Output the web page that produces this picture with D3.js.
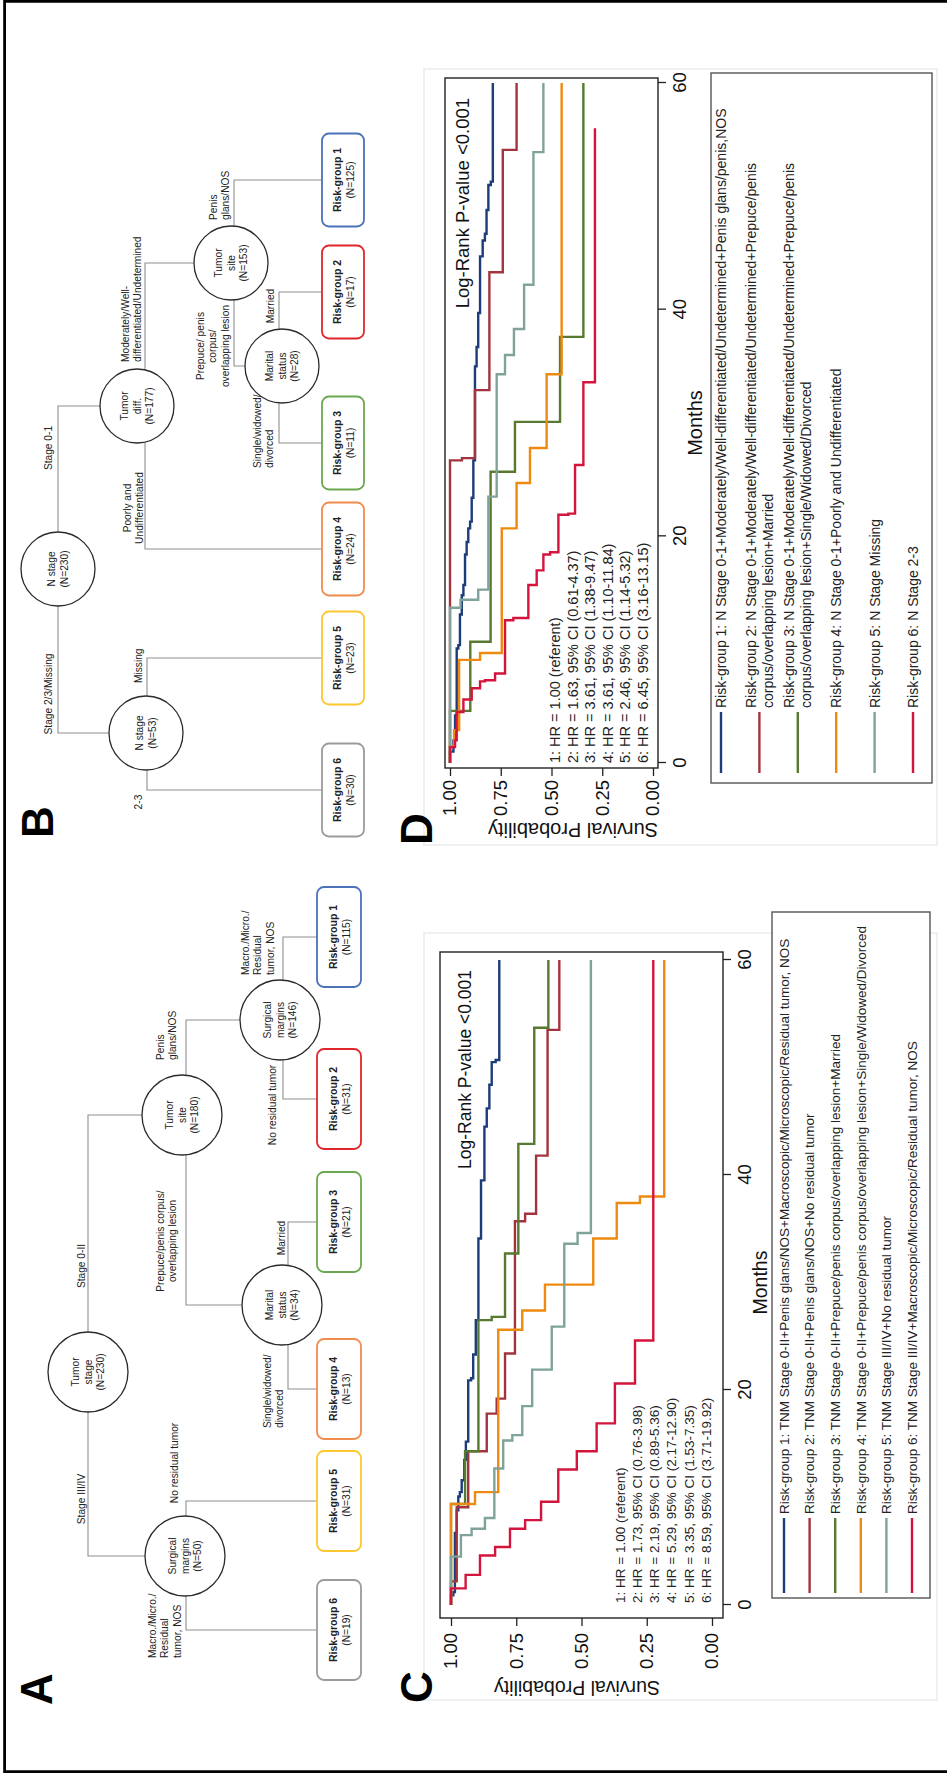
<!DOCTYPE html>
<html>
<head>
<meta charset="utf-8">
<script src="https://cdn.jsdelivr.net/npm/d3@7"></script>
<style>
  body { margin: 0; background: #fff; }
  svg { display: block; }
</style>
</head>
<body>
<svg id="fig"></svg>
<script>
// ---------- DATA ----------
const MONTH_TICKS = [0, 20, 40, 60];
const SURV_TICKS = [0, 0.25, 0.5, 0.75, 1];
const KM_COLORS = ["#1c3d78", "#a3343f", "#587a30", "#ef8a10", "#7fa39b", "#d3143c"];
const BOX_COLORS = ["#4a72b8", "#e0262b", "#6aa84f", "#f08c4e", "#fdc72f", "#9b9b9b"];

// panel C: [month, survival]
const C_RG1 = [[0,1],[0.9,0.991],[1.2,0.985],[6.7,0.978],[8.8,0.972],[10.1,0.966],[10.5,0.959],[11.6,0.949],[13.5,0.943],[15.2,0.934],[20.9,0.923],[21.1,0.915],[23.3,0.905],[26.5,0.895],[34.1,0.885],[39.5,0.872],[44.5,0.863],[46.2,0.853],[48.4,0.844],[50.5,0.829],[50.7,0.815],[60,0.815]];
const C_RG2 = [[0,1],[2.2,0.978],[9.1,0.934],[14.3,0.863],[17.8,0.825],[19.2,0.793],[23.4,0.755],[35.7,0.716],[36.4,0.674],[41.8,0.630],[53.5,0.585],[60,0.585]];
const C_RG3 = [[0,1],[9.4,0.946],[14.3,0.895],[26.5,0.844],[26.8,0.793],[32.7,0.742],[42.9,0.681],[53.7,0.627],[60,0.627]];
const C_RG4 = [[0,1],[9.4,0.908],[10.5,0.819],[25.6,0.727],[27.4,0.640],[29.8,0.455],[34.1,0.365],[37.4,0.276],[38.0,0.183],[60,0.183]];
const C_RG5 = [[0,1],[4.5,0.962],[6.5,0.921],[7.1,0.870],[8.1,0.834],[12.7,0.800],[15.3,0.765],[15.8,0.727],[18.5,0.689],[21.9,0.614],[25.9,0.566],[33.6,0.515],[34.6,0.464],[60,0.464]];
const C_RG6 = [[0,1],[1.55,0.944],[2.8,0.889],[4.6,0.831],[5.4,0.774],[7.1,0.716],[7.9,0.655],[9.6,0.589],[12.6,0.518],[14.3,0.442],[16.9,0.372],[20.6,0.295],[24.6,0.225],[60,0.225]];

// panel D
const D_RG1 = [[0,1],[1.0,0.983],[2.0,0.975],[4.2,0.967],[10.1,0.959],[10.4,0.951],[13.1,0.942],[14.8,0.934],[15.7,0.926],[18.4,0.918],[19.5,0.910],[20.7,0.901],[21.3,0.893],[23.4,0.885],[26.7,0.877],[35.0,0.869],[36.7,0.861],[39.7,0.852],[44.7,0.839],[46.1,0.828],[46.7,0.820],[48.8,0.811],[51.0,0.799],[51.3,0.789],[60,0.789]];
const D_RG2 = [[0,1],[26.7,0.941],[26.9,0.877],[32.9,0.806],[43.3,0.740],[54.1,0.672],[60,0.672]];
const D_RG3 = [[0,1],[4.6,0.90],[10.7,0.80],[25.7,0.68],[30.1,0.458],[37.6,0.343],[60,0.343]];
const D_RG4 = [[0,1],[1.5,0.98],[2.9,0.955],[9.1,0.852],[9.7,0.745],[20.7,0.672],[24.7,0.606],[27.8,0.524],[34.3,0.450],[60,0.450]];
const D_RG5 = [[0,1],[13.7,0.948],[14.4,0.861],[15.3,0.811],[23.5,0.770],[34.3,0.729],[36.0,0.685],[38.3,0.635],[42.2,0.589],[53.9,0.540],[60,0.540]];
const D_RG6 = [[0,1],[1.4,0.975],[2.0,0.967],[4.5,0.934],[5.6,0.893],[6.6,0.852],[7.2,0.828],[7.3,0.778],[7.9,0.729],[12.6,0.688],[12.8,0.614],[15.7,0.573],[17.0,0.540],[18.4,0.507],[18.6,0.466],[21.9,0.417],[22.0,0.384],[26.3,0.343],[33.6,0.286],[56.0,0.286]];

const HR_C = ["1: HR = 1.00 (referent)", "2: HR = 1.73, 95% CI (0.76-3.98)", "3: HR = 2.19, 95% CI (0.89-5.36)",
  "4: HR = 5.29, 95% CI (2.17-12.90)", "5: HR = 3.35, 95% CI (1.53-7.35)", "6: HR = 8.59, 95% CI (3.71-19.92)"];
const HR_D = ["1: HR = 1.00 (referent)", "2: HR = 1.63, 95% CI (0.61-4.37)", "3: HR = 3.61, 95% CI (1.38-9.47)",
  "4: HR = 3.61, 95% CI (1.10-11.84)", "5: HR = 2.46, 95% CI (1.14-5.32)", "6: HR = 6.45, 95% CI (3.16-13.15)"];

const LEG_C = [
  ["Risk-group 1: TNM Stage 0-II+Penis glans/NOS+Macroscopic/Microscopic/Residual tumor, NOS"],
  ["Risk-group 2: TNM Stage 0-II+Penis glans/NOS+No residual tumor"],
  ["Risk-group 3: TNM Stage 0-II+Prepuce/penis corpus/overlapping lesion+Married"],
  ["Risk-group 4: TNM Stage 0-II+Prepuce/penis corpus/overlapping lesion+Single/Widowed/Divorced"],
  ["Risk-group 5: TNM Stage III/IV+No residual tumor"],
  ["Risk-group 6: TNM Stage III/IV+Macroscopic/Microscopic/Residual tumor, NOS"]
];
const LEG_D = [
  ["Risk-group 1: N Stage 0-1+Moderately/Well-differentiated/Undetermined+Penis glans/penis,NOS"],
  ["Risk-group 2: N Stage 0-1+Moderately/Well-differentiated/Undetermined+Prepuce/penis", "corpus/overlapping lesion+Married"],
  ["Risk-group 3: N Stage 0-1+Moderately/Well-differentiated/Undetermined+Prepuce/penis", "corpus/overlapping lesion+Single/Widowed/Divorced"],
  ["Risk-group 4: N Stage 0-1+Poorly and Undifferentiated"],
  ["Risk-group 5: N Stage Missing"],
  ["Risk-group 6: N Stage 2-3"]
];

// decision trees (structure + labels)
const TREE_A = [
  {id: "tstage", parent: null, text: ["Tumor", "stage", "(N=230)"]},
  {id: "surg50", parent: "tstage", text: ["Surgical", "margins", "(N=50)"], branch: ["Stage III/IV"]},
  {id: "tsite", parent: "tstage", text: ["Tumor", "site", "(N=180)"], branch: ["Stage 0-II"]},
  {id: "surg146", parent: "tsite", text: ["Surgical", "margins", "(N=146)"], branch: ["Penis", "glans/NOS"]},
  {id: "mar", parent: "tsite", text: ["Marital", "status", "(N=34)"], branch: ["Prepuce/penis corpus/", "overlapping lesion"]},
  {id: "g1", parent: "surg146", group: 1, n: 115, branch: ["Macro./Micro./", "Residual", "tumor, NOS"]},
  {id: "g2", parent: "surg146", group: 2, n: 31, branch: ["No residual tumor"]},
  {id: "g3", parent: "mar", group: 3, n: 21, branch: ["Married"]},
  {id: "g4", parent: "mar", group: 4, n: 13, branch: ["Single/widowed/", "divorced"]},
  {id: "g5", parent: "surg50", group: 5, n: 31, branch: ["No residual tumor"]},
  {id: "g6", parent: "surg50", group: 6, n: 19, branch: ["Macro./Micro./", "Residual", "tumor, NOS"]}
];
const TREE_B = [
  {id: "n230", parent: null, text: ["N stage", "(N=230)"]},
  {id: "tdiff", parent: "n230", text: ["Tumor", "diff.", "(N=177)"], branch: ["Stage 0-1"]},
  {id: "n53", parent: "n230", text: ["N stage", "(N=53)"], branch: ["Stage 2/3/Missing"]},
  {id: "tsite", parent: "tdiff", text: ["Tumor", "site", "(N=153)"], branch: ["Moderately/Well-", "differentiated/Undetermined"]},
  {id: "mar", parent: "tsite", text: ["Marital", "status", "(N=28)"], branch: ["Prepuce/ penis", "corpus/", "overlapping lesion"]},
  {id: "g1", parent: "tsite", group: 1, n: 125, branch: ["Penis", "glans/NOS"]},
  {id: "g2", parent: "mar", group: 2, n: 17, branch: ["Married"]},
  {id: "g3", parent: "mar", group: 3, n: 11, branch: ["Single/widowed/", "divorced"]},
  {id: "g4", parent: "tdiff", group: 4, n: 24, branch: ["Poorly and", "Undifferentiated"]},
  {id: "g5", parent: "n53", group: 5, n: 23, branch: ["Missing"]},
  {id: "g6", parent: "n53", group: 6, n: 30, branch: ["2-3"]}
];

// ---------- LAYOUT (figure drawn landscape, then turned a quarter) ----------
const W = 947, H = 1773;
const FONT = '"Liberation Sans", Arial, Helvetica, sans-serif';
const TREE_FS = 10.2;

// node centre [u, v, stem of outgoing edges]
const POS_A = {tstage: [401, 88, 88], surg50: [217, 185, 186], tsite: [658, 182, 186], surg146: [753, 280, 283], mar: [468, 282, 288],
  g1: [836, 339], g2: [674, 339], g3: [551, 339], g4: [384, 339], g5: [272, 339], g6: [143, 339]};
const LAB_A = {surg50: [274, 81, "middle"], tsite: [507, 81, "middle"], surg146: [713, 160, "start"], mar: [532, 160, "middle"],
  g1: [798, 245, "start"], g2: [668, 272, "middle"], g3: [535, 281, "middle"], g4: [345, 267, "start"],
  g5: [310, 174, "middle"], g6: [115, 152, "start"]};
const POS_B = {n230: [1204, 58, 58], tdiff: [1367, 137, 145], n53: [1040, 146, 147], tsite: [1510, 231, 234], mar: [1407, 282, 279],
  g1: [1593, 343], g2: [1481, 343], g3: [1330, 343], g4: [1224, 343], g5: [1115, 343], g6: [983, 343]};
const LAB_B = {tdiff: [1325, 48, "middle"], n53: [1079, 48, "middle"], g4: [1265, 127, "middle"], tsite: [1411, 125, "start"],
  g5: [1090, 138, "start"], g6: [971, 138, "middle"], g1: [1553, 213, "start"], mar: [1427, 200, "middle"],
  g2: [1467, 270, "middle"], g3: [1305, 257, "start"]};

const svg = d3.select("#fig").attr("width", W).attr("height", H);
svg.append("rect").attr("width", W).attr("height", H).attr("fill", "#fff");

const root = svg.append("g").attr("transform", `translate(0,${H}) rotate(-90)`);

// faint outlines of the pasted plot images
[[73, 840], [928, 1704]].forEach(r => {
  root.append("rect").attr("x", r[0]).attr("y", 424).attr("width", r[1] - r[0]).attr("height", 513)
    .attr("fill", "none").attr("stroke", "#e7eded").attr("stroke-width", 1.5);
});

// ---------- TREES ----------
function drawTree(nodes, pos, lab, o) {
  const g = root.append("g").attr("font-family", FONT).attr("fill", "#222");
  const kids = nodes.filter(d => d.parent);

  g.selectAll(".edge").data(kids).enter().append("path")
    .attr("d", d => {
      const p = pos[d.parent], c = pos[d.id];
      return `M${p[0]},${p[2]}H${c[0]}V${c[1]}`;
    })
    .attr("fill", "none").attr("stroke", "#8f8f8f").attr("stroke-width", 1.1);

  const inner = nodes.filter(d => !d.group);
  const circ = g.selectAll(".node").data(inner).enter().append("g")
    .attr("transform", d => `translate(${pos[d.id][0]},${pos[d.id][1]})`);
  circ.append("circle").attr("r", o.r).attr("fill", "#fff").attr("stroke", "#2b2b2b").attr("stroke-width", 1.3);
  circ.each(function(d) {
    const t = d3.select(this).append("text").attr("text-anchor", "middle").attr("font-size", TREE_FS);
    d.text.forEach((s, i) => {
      t.append("tspan").attr("x", 0).attr("y", (i - (d.text.length - 1) / 2) * 12.5).attr("dy", "0.35em").text(s);
    });
  });

  const leaves = nodes.filter(d => d.group);
  const box = g.selectAll(".leaf").data(leaves).enter().append("g")
    .attr("transform", d => `translate(${pos[d.id][0]},${pos[d.id][1]})`);
  box.append("rect")
    .attr("x", -o.bw / 2).attr("y", -o.bh / 2).attr("width", o.bw).attr("height", o.bh)
    .attr("rx", 7).attr("fill", "#fff")
    .attr("stroke", d => BOX_COLORS[d.group - 1]).attr("stroke-width", 1.8);
  box.append("text").attr("text-anchor", "middle").attr("y", -5.5).attr("dy", "0.35em")
    .attr("font-size", 10.5).attr("font-weight", "bold").text(d => `Risk-group ${d.group}`);
  box.append("text").attr("text-anchor", "middle").attr("y", 7).attr("dy", "0.35em")
    .attr("font-size", TREE_FS).text(d => `(N=${d.n})`);

  kids.forEach(d => {
    const l = lab[d.id];
    const t = g.append("text").attr("text-anchor", l[2]).attr("font-size", TREE_FS);
    d.branch.forEach((s, i) => {
      t.append("tspan").attr("x", l[0]).attr("y", l[1] + i * 12.7).attr("dy", "0.35em").text(s);
    });
  });
}

drawTree(TREE_A, POS_A, LAB_A, {r: 40, bw: 100, bh: 44});
drawTree(TREE_B, POS_B, LAB_B, {r: 37, bw: 93, bh: 42});

// ---------- KAPLAN-MEIER PANELS ----------
function drawKM(c) {
  const g = root.append("g").attr("font-family", FONT);
  const x = d3.scaleLinear().domain([0, 60]).range(c.xRange);
  const y = d3.scaleLinear().domain([0, 1]).range(c.yRange);
  const [fx0, fx1, fy0, fy1] = c.frame;

  const line = d3.line().x(d => x(d[0])).y(d => y(d[1])).curve(d3.curveStepAfter);
  g.selectAll(".km").data(c.series).enter().append("path")
    .attr("d", d => line(d)).attr("fill", "none")
    .attr("stroke", (d, i) => KM_COLORS[i]).attr("stroke-width", 2.4);

  g.append("rect").attr("x", fx0).attr("y", fy0).attr("width", fx1 - fx0).attr("height", fy1 - fy0)
    .attr("fill", "none").attr("stroke", "#222").attr("stroke-width", 1.4);

  const xa = g.append("g").attr("transform", `translate(0,${fy1})`)
    .call(d3.axisBottom(x).tickValues(MONTH_TICKS).tickSize(8).tickPadding(7).tickFormat(d3.format("d")));
  xa.select(".domain").remove();
  xa.selectAll("line").attr("stroke", "#222").attr("stroke-width", 1.3);
  xa.selectAll("text").attr("font-size", c.tickFs).attr("font-family", FONT).attr("fill", "#111");

  const ya = g.append("g").attr("transform", `translate(${fx0},0)`)
    .call(d3.axisLeft(y).tickValues(SURV_TICKS).tickSize(8).tickPadding(c.yPad).tickFormat(d3.format(".2f")));
  ya.select(".domain").remove();
  ya.selectAll("line").attr("stroke", "#222").attr("stroke-width", 1.3);
  ya.selectAll("text").attr("font-size", c.tickFs).attr("font-family", FONT).attr("fill", "#111");

  g.append("text").attr("x", (c.xRange[0] + c.xRange[1]) / 2).attr("y", c.monthsV).attr("dy", "0.35em")
    .attr("text-anchor", "middle").attr("font-size", c.titleFs).attr("fill", "#111").text("Months");
  g.append("text").attr("transform", `translate(${c.yTitle[0]},${c.yTitle[1]}) rotate(-90)`).attr("dy", "0.35em")
    .attr("text-anchor", "middle").attr("font-size", c.titleFs).attr("fill", "#111").text("Survival Probability");

  g.append("text").attr("x", c.logRank[0]).attr("y", c.logRank[1]).attr("dy", "0.35em")
    .attr("text-anchor", "end").attr("font-size", c.lrFs).attr("fill", "#111").text("Log-Rank P-value <0.001");

  g.selectAll(".hr").data(c.hr).enter().append("text")
    .attr("x", c.hrPos[0]).attr("y", (d, i) => c.hrPos[1] + i * c.hrStep).attr("dy", "0.35em")
    .attr("font-size", c.hrFs).attr("fill", "#222").text(d => d);

  // legend
  const lg = g.append("g");
  const b = c.legBox;
  lg.append("rect").attr("x", b[0]).attr("y", b[2]).attr("width", b[1] - b[0]).attr("height", b[3] - b[2])
    .attr("fill", "#fff").attr("stroke", "#555").attr("stroke-width", 1.4);
  c.legend.forEach((lines, i) => {
    const cv = c.legKey0 + i * c.legStep;
    lg.append("line").attr("x1", c.legKeyU[0]).attr("x2", c.legKeyU[1]).attr("y1", cv).attr("y2", cv)
      .attr("stroke", KM_COLORS[i]).attr("stroke-width", 2.4);
    const t = lg.append("text").attr("font-size", c.legFs).attr("fill", "#222");
    lines.forEach((s, j) => {
      t.append("tspan").attr("x", c.legKeyU[1] + 4).attr("y", cv + (j - (lines.length - 1) / 2) * c.legLine)
        .attr("dy", "0.35em").text(s);
    });
  });
}

drawKM({
  series: [C_RG1, C_RG2, C_RG3, C_RG4, C_RG5, C_RG6], hr: HR_C, legend: LEG_C,
  xRange: [168, 813], yRange: [712, 451], frame: [155, 821, 440, 723],
  tickFs: 18.5, titleFs: 19.5, yPad: 7, monthsV: 760, yTitle: [85, 577],
  logRank: [803, 465], lrFs: 17.5, hrPos: [170, 620], hrStep: 17.2, hrFs: 13.5,
  legBox: [175, 861, 772, 930], legKey0: 784, legStep: 25.6, legKeyU: [180, 255], legFs: 13.5, legLine: 17
});

drawKM({
  series: [D_RG1, D_RG2, D_RG3, D_RG4, D_RG5, D_RG6], hr: HR_D, legend: LEG_D,
  xRange: [1010, 1690], yRange: [653, 450], frame: [1005, 1695, 445, 658],
  tickFs: 18.5, titleFs: 20, yPad: 4, monthsV: 695, yTitle: [943, 573],
  logRank: [1675, 463], lrFs: 18.5, hrPos: [1010, 555], hrStep: 17.6, hrFs: 14.5,
  legBox: [990, 1700, 711, 932], legKey0: 721, legStep: 38.4, legKeyU: [1000, 1061], legFs: 14, legLine: 17
});

// panel letters
const LETTERS = [["A", 68, 52], ["B", 935, 53], ["C", 70, 432], ["D", 928, 432]];
root.selectAll(".letter").data(LETTERS).enter().append("text")
  .attr("x", d => d[1]).attr("y", d => d[2])
  .attr("font-family", FONT).attr("font-weight", "bold").attr("font-size", 44).attr("fill", "#000")
  .text(d => d[0]);

// outer frame: left, top and bottom edges only
const frame = svg.append("g").attr("stroke", "#000").attr("stroke-width", 2.8).attr("fill", "none");
frame.append("path").attr("d", `M${W},1.4H4.6V${H - 1.4}H${W}`);
</script>
</body>
</html>
